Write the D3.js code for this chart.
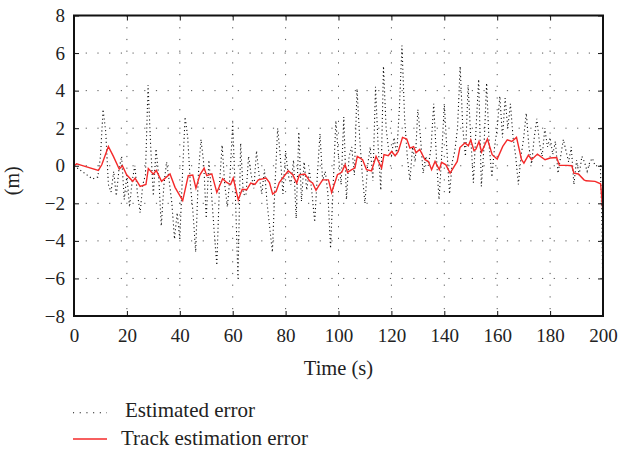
<!DOCTYPE html>
<html>
<head>
<meta charset="utf-8">
<script src="https://cdn.jsdelivr.net/npm/d3@7"></script>
<style>
  body { margin: 0; background: #fff; }
  text { font-family: "Liberation Serif", "DejaVu Serif", serif; fill: #222; }
  .grid line { stroke: #555; stroke-width: 1; stroke-dasharray: 1.2, 10.5; }
</style>
</head>
<body>
<div id="chart"></div>
<script>
// Time axis ticks and value axis ticks
const xTicks = [0, 20, 40, 60, 80, 100, 120, 140, 160, 180, 200];
const yTicks = [-8, -6, -4, -2, 0, 2, 4, 6, 8];
const seriesNames = ['Estimated error', 'Track estimation error'];

// Estimated error (black dotted), [time, metres]
const estTime = [0, 2, 3, 5, 7, 9, 10, 11, 12, 13, 14, 15, 16, 17, 18, 19, 20, 21, 22, 23, 24, 25, 26, 27, 28, 29,
  30, 31, 32, 33, 34, 35, 36, 37, 38, 39, 40, 41, 42, 43, 44, 45, 46, 47, 48, 49, 50, 51, 52, 53, 54, 55, 56, 57, 58, 59,
  60, 61, 62, 63, 64, 65, 66, 67, 68, 69, 70, 71, 72, 73, 75, 76, 77, 78, 79, 80, 81, 82, 83, 84, 85, 86, 87, 88, 89,
  90, 91, 92, 93, 94, 95, 96, 97, 98, 99, 100, 101, 102, 103, 104, 105, 106, 107, 108, 109, 110, 111, 112, 113, 114,
  115, 116, 117, 118, 119, 120, 121, 122, 123, 124, 125, 126, 127, 128, 129, 130, 131, 132, 133, 134, 135, 136, 137,
  138, 139, 140, 141, 142, 143, 144, 145, 146, 147, 148, 149, 150, 151, 152, 153, 154, 155, 156, 157, 158, 159, 160,
  161, 162, 163, 164, 165, 166, 167, 168, 169, 170, 171, 172, 173, 174, 175, 176, 177, 178, 179, 180, 181, 182, 183,
  184, 185, 186, 187, 188, 189, 190, 191, 192, 193, 194, 195, 196, 197, 199, 199.6, 200];
const estValue = [0, -0.2, -0.3, -0.5, -0.7, -0.6, 0.5, 3.0, 1.8, -1.0, -1.4, -0.3, -1.6, -0.2, 0.5, -1.8, -0.5, -2.2, -0.8, 0.0, -1.5, -2.5, -1.0, -0.5, 4.3, 1.0,
  -1.6, 0.9, -0.5, -3.2, -1.0, 0.2, -0.8, -2.0, -3.9, -2.5, -3.9, -0.5, 2.6, 1.5, -1.0, -2.5, -4.6, -0.5, 1.4, 0.2, -2.8, 0.3, -1.5, -3.5, -5.3, -1.0, 1.1, -1.0, -2.2, -0.5,
  2.3, -1.5, -6.0, 1.2, -1.5, -1.6, 0.5, -0.5, -1.2, 0.8, -0.5, -1.5, -0.2, -2.0, -4.6, -1.0, 2.0, 0.5, -1.5, 0.8, -0.5, -1.0, 0.3, -2.8, 1.8, -1.9, 0.2, -1.3, -0.2,
  -1.5, -3.0, -0.5, 1.7, -0.8, -0.3, -1.5, -4.4, -1.0, 2.4, 0.5, -1.0, 2.6, -1.8, 0.5, 1.0, -0.5, 4.1, 1.5, -0.5, -2.0, 0.0, 1.0, -0.8, 4.2,
  1.0, -1.3, 5.3, 2.0, 0.8, 0.5, 1.5, 0.6, 3.0, 6.4, 2.5, 0.5, -0.8, 1.0, 0.2, 3.0, 1.5, -0.4, 0.5, 0.0, 1.0, 3.3, 0.5,
  -1.8, 0.5, 3.3, 0.8, -1.5, 0.2, 0.8, 2.0, 5.3, 2.0, 0.5, 4.3, 1.5, -0.9, 2.0, 4.6, -1.1, 1.0, 4.4, 1.0, -0.6, 1.0, 2.0,
  3.7, 1.5, 3.6, 2.0, 3.3, 1.5, 0.5, -1.0, 0.5, 1.5, 2.8, 1.0, 0.1, 1.5, 2.5, 1.2, 0.5, 2.0, 1.0, 1.5, 0.6, 1.3, -0.4,
  0.5, 1.4, 0.8, 0.2, 1.0, -1.0, 0.3, -0.5, 0.5, 0.2, -0.3, 0.2, 0.4, 0.0, 0.0, -3.0, -7.8];

// Track estimation error (red solid), [time, metres]
const trackTime = [0, 1, 2.3, 9.2, 10.5, 13, 14.9, 17.1, 18.3, 19.9, 22.2, 23.1, 25, 27.2, 28.1, 30, 31.1, 33.1, 36.3,
  38.2, 41.1, 43.2, 44.9, 46.1, 47.6, 49.2, 50.2, 52.1, 54, 56.2, 57.7, 59.2, 60.2, 62.1, 63.6, 65.3, 66.8, 68.4, 69.7,
  72.6, 73.9, 75.1, 76.4, 77.6, 81, 82.7, 84.2, 85.2, 87.3, 89.2, 90.2, 91.5, 92.4, 94, 96.2, 97.4, 99.6, 101.2, 102.5,
  103.4, 105, 106.2, 107.1, 109.1, 110.6, 112.5, 114.2, 116.3, 117.2, 118.8, 120.1, 121.4, 122.6, 124.2, 125.8, 127,
  128.4, 129.3, 130.7, 132.7, 134, 135.2, 136.5, 138.1, 139, 140.6, 142.2, 144.9, 145.9, 147.8, 149.1, 150, 151.2, 152,
  153.1, 154.1, 156.3, 158.1, 160, 162.1, 163.8, 165.5, 167.3, 169.2, 170.1, 171.8, 173, 175.2, 178.1, 180, 182.5,
  183.5, 186.3, 188.2, 189, 190.7, 192.8, 193.6, 197, 199.1, 199.9];
const trackValue = [0, 0.1, 0.05, -0.25, 0.05, 1.03, 0.5, -0.18, 0, -0.48, -0.83, -0.66, -1.1, -1.0, -0.15, -0.45, -0.25, -0.83, -0.44,
  -1.15, -1.86, -0.53, -0.5, -1.19, -0.48, -0.12, -0.53, -0.43, -1.42, -0.69, -0.89, -1.0, -0.66, -1.81, -1.25, -1.28, -0.92, -1.0, -0.75,
  -0.66, -0.89, -1.51, -1.37, -0.89, -0.27, -0.48, -0.92, -0.48, -0.44, -0.83, -0.92, -1.31, -1.1, -0.75, -0.75, -1.42, -0.48, -0.35, 0.05,
  -0.35, -0.21, -0.12, 0.5, 0.32, -0.21, -0.27, 0.5, -0.12, 0.59, 0.53, 0.76, 0.53, 0.76, 1.51, 1.42, 0.94,
  1.02, 0.69, 0.87, 0.32, 0.23, -0.21, 0.23, -0.21, 0.18, 0.05, -0.39, 0.23, 0.97, 1.21, 1.06, 1.38, 0.81, 0.89,
  1.29, 0.73, 1.42, 0.59, 0.36, 1.03, 1.38, 1.29, 1.51, 0.32, 0.14, 0.57, 0.32, 0.62, 0.32, 0.41, 0.44,
  0.02, 0.02, 0, -0.39, -0.44, -0.75, -0.8, -0.83, -0.96, -2.34];

const estimated = estTime.map(function (t, i) { return { t: t, v: estValue[i] }; });
const track = trackTime.map(function (t, i) { return { t: t, v: trackValue[i] }; });

// margin convention
const margin = { top: 15.5, right: 16, bottom: 135, left: 74 }
    , width = 619 - margin.left - margin.right
    , height = 451 - margin.top - margin.bottom;

const xScale = d3.scaleLinear().domain([0, 200]).range([0, width]);
const yScale = d3.scaleLinear().domain([-8, 8]).range([height, 0]);

const line = d3.line()
    .x(function (d) { return xScale(d.t); })
    .y(function (d) { return yScale(d.v); });

const svg = d3.select('#chart').append('svg')
    .attr('width', 619)
    .attr('height', 451)
    .append('g')
    .attr('transform', 'translate(' + margin.left + ',' + margin.top + ')');

// dotted grid
svg.append('g').attr('class', 'grid')
    .selectAll('line').data(xTicks.slice(1, -1)).enter().append('line')
    .attr('x1', function (d) { return xScale(d); }).attr('x2', function (d) { return xScale(d); })
    .attr('y1', 0).attr('y2', height);
svg.append('g').attr('class', 'grid')
    .selectAll('line').data(yTicks.slice(1, -1)).enter().append('line')
    .attr('y1', function (d) { return yScale(d); }).attr('y2', function (d) { return yScale(d); })
    .attr('x1', 0).attr('x2', width);

// series
svg.append('path')
    .datum(estimated)
    .attr('fill', 'none')
    .attr('stroke', '#111')
    .attr('stroke-width', 1.1)
    .attr('stroke-dasharray', '1.1,2.8')
    .attr('d', line);

svg.append('path')
    .datum(track)
    .attr('fill', 'none')
    .attr('stroke', '#f42a2a')
    .attr('stroke-width', 1.4)
    .attr('d', line);

// axes (inward ticks on all sides)
svg.append('g')
    .attr('class', 'x axis')
    .attr('transform', 'translate(0,' + height + ')')
    .call(d3.axisBottom(xScale).tickValues(xTicks).tickSize(-5).tickPadding(13));
svg.append('g')
    .attr('class', 'y axis')
    .call(d3.axisLeft(yScale).tickValues(yTicks).tickSize(-5).tickPadding(9));
svg.append('g')
    .call(d3.axisTop(xScale).tickValues(xTicks).tickSize(-5).tickFormat(''));
svg.append('g')
    .attr('transform', 'translate(' + width + ',0)')
    .call(d3.axisRight(yScale).tickValues(yTicks).tickSize(-5).tickFormat(''));
svg.selectAll('.axis')
    .attr('font-family', '"Liberation Serif", serif')
    .attr('font-size', 19);
svg.selectAll('.domain').remove();
svg.selectAll('.tick line').attr('stroke', '#111').attr('stroke-width', 1);
svg.selectAll('.tick text')
    .style('font-family', '"Liberation Serif", serif')
    .style('font-size', '19px')
    .style('fill', '#222');

// frame
svg.append('rect')
    .attr('width', width).attr('height', height)
    .attr('fill', 'none').attr('stroke', '#111').attr('stroke-width', 2);

// axis titles
svg.append('text')
    .attr('x', width / 2).attr('y', height + 59)
    .attr('text-anchor', 'middle')
    .style('font-size', '20.5px')
    .text('Time (s)');

svg.append('text')
    .attr('transform', 'translate(' + (-55) + ',' + (height / 2 + 15) + ') rotate(-90)')
    .attr('text-anchor', 'middle')
    .style('font-size', '20px')
    .text('(m)');

// legend
const legend = svg.append('g').attr('transform', 'translate(' + (-1) + ',' + (height + 96.7) + ')');
legend.append('line')
    .attr('x1', 0).attr('x2', 34).attr('y1', 0).attr('y2', 0)
    .attr('stroke', '#111').attr('stroke-width', 1.1).attr('stroke-dasharray', '1.1,5.6');
legend.append('text')
    .attr('x', 52).attr('y', 4).style('font-size', '21px').text(seriesNames[0]);
legend.append('line')
    .attr('x1', 0).attr('x2', 34).attr('y1', 26.3).attr('y2', 26.3)
    .attr('stroke', '#f42a2a').attr('stroke-width', 1.4);
legend.append('text')
    .attr('x', 48).attr('y', 32).style('font-size', '21px').text(seriesNames[1]);
</script>
</body>
</html>
